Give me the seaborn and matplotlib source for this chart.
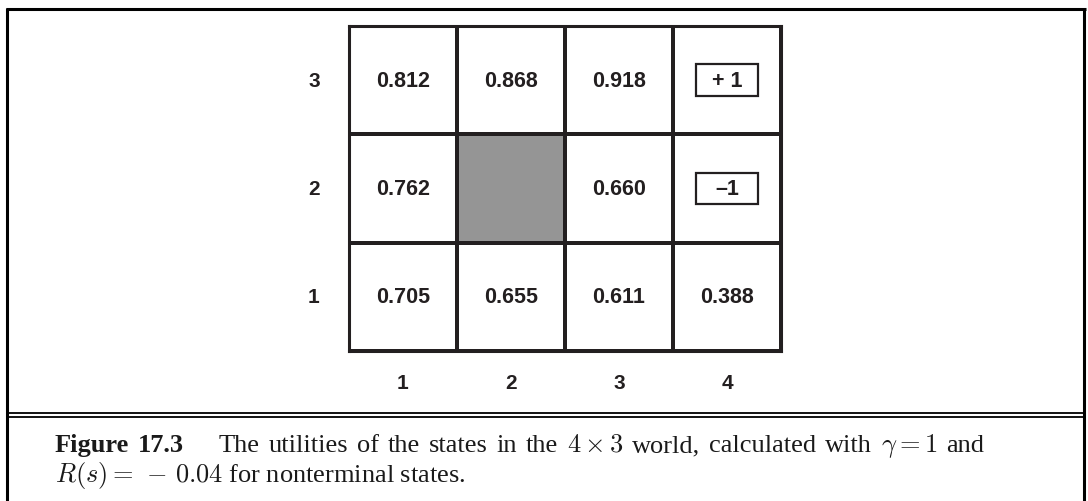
import matplotlib
matplotlib.use("Agg")
import matplotlib.pyplot as plt
import numpy as np
import pandas as pd
import seaborn as sns
from matplotlib.colors import ListedColormap
from matplotlib.lines import Line2D
from matplotlib.patches import Rectangle

# 4x3 grid world utilities (rows top to bottom: y = 3, 2, 1)
row_labels = ["3", "2", "1"]
col_labels = ["1", "2", "3", "4"]
utilities = [
    [0.812, 0.868, 0.918, 1.0],
    [0.762, np.nan, 0.660, -1.0],
    [0.705, 0.655, 0.611, 0.388],
]
terminal = [(0, 3), (1, 3)]
terminal_text = ["+ 1", "\u20131"]

W, H = 1088, 502
ink = "#231f20"

plt.rcParams["font.family"] = ["Liberation Sans", "DejaVu Sans"]
plt.rcParams["mathtext.fontset"] = "cm"

util = pd.DataFrame(utilities, index=row_labels, columns=col_labels)
wall = util.isna().astype(int)
labels = util.map(lambda v: "" if pd.isna(v) else f"{v:.3f}")
for (r, c), t in zip(terminal, terminal_text):
    labels.iloc[r, c] = t

fig = plt.figure(figsize=(W / 100, H / 100), dpi=100)

# grid area in pixels: x 349..781, y 27..352
ax = fig.add_axes([349 / W, 1 - 352 / H, 432 / W, 325 / H])
sns.heatmap(
    wall,
    ax=ax,
    cmap=ListedColormap(["white", "#959595"]),
    vmin=0, vmax=1,
    annot=labels,
    fmt="",
    cbar=False,
    linewidths=1.5,
    linecolor=ink,
    annot_kws={"fontsize": 15.5, "fontweight": "bold", "color": ink},
)
for s in ax.spines.values():
    s.set_visible(True)
    s.set_linewidth(2.2)
    s.set_color(ink)

# boxes around terminal rewards
for (r, c) in terminal:
    ax.add_patch(Rectangle((c + 0.5 - 0.283, r + 0.5 - 0.145), 0.566, 0.29,
                           fill=False, lw=1.6, ec=ink, zorder=3))

ax.tick_params(axis="x", length=0, pad=16)
ax.tick_params(axis="y", length=0, pad=21)
ax.set_xlabel("")
ax.set_ylabel("")
for t in ax.get_xticklabels() + ax.get_yticklabels():
    t.set_fontsize(15)
    t.set_fontweight("bold")
    t.set_color(ink)
    t.set_rotation(0)

# frame around the figure
def px_line(x0, y0, x1, y1, lw):
    fig.add_artist(Line2D([x0 / W, x1 / W], [1 - y0 / H, 1 - y1 / H],
                          transform=fig.transFigure, color="black", lw=lw,
                          solid_capstyle="butt"))

px_line(5.5, 10, 1085.5, 10, 2.2)
px_line(7, 9, 7, 502, 2.2)
px_line(1084, 9, 1084, 502, 2.2)
px_line(7, 413.5, 1084, 413.5, 1.3)
px_line(7, 417.5, 1084, 417.5, 1.3)

# caption, justified first line
serif = {"family": "Liberation Serif", "fontsize": 19, "color": "#1a1a1a"}
renderer = fig.canvas.get_renderer()

line1 = [("Figure", "bold"), ("17.3", "bold"), ("The", "normal"), ("utilities", "normal"),
         ("of", "normal"), ("the", "normal"), ("states", "normal"), ("in", "normal"),
         ("the", "normal"), (r"$4\times3$", "normal"), ("world,", "normal"),
         ("calculated", "normal"), ("with", "normal"), (r"$\gamma=1$", "normal"),
         ("and", "normal")]
x_start, x_end, base1 = 55, 984, 452
texts = [fig.text(0, 1 - base1 / H, w, fontweight=fw, va="baseline", **serif)
         for w, fw in line1]
widths = [t.get_window_extent(renderer).width for t in texts]
gaps = [1] * (len(texts) - 1)
gaps[1] = 4.0  # wider gap after the figure number
unit = (x_end - x_start - sum(widths)) / sum(gaps)
x = x_start
for i, t in enumerate(texts):
    t.set_x(x / W)
    x += widths[i] + (unit * gaps[i] if i < len(gaps) else 0)

fig.text(55 / W, 1 - 482 / H, r"$R(s)=\,-\,0.04$ for nonterminal states.",
         va="baseline", **serif)

fig.savefig("out.png", dpi=100)
